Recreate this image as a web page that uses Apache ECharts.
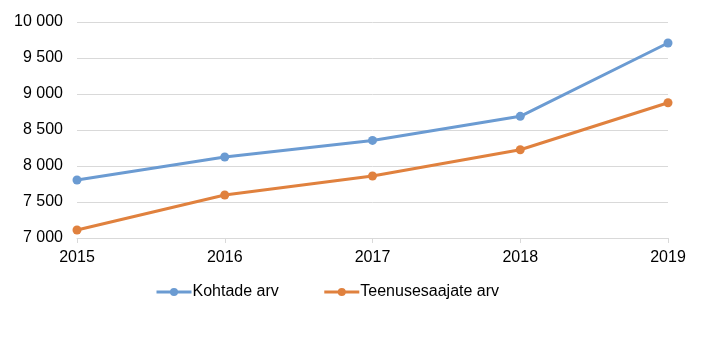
<!DOCTYPE html>
<html><head><meta charset="utf-8">
<script src="https://cdn.jsdelivr.net/npm/echarts@6/dist/echarts.min.js"></script>
<style>html,body{margin:0;padding:0;background:#fff}#c{width:719px;height:337px}</style>
</head><body><div id="c"></div>
<script>
const years = ['2015','2016','2017','2018','2019'];
const kohtade = [7805, 8125, 8355, 8690, 9708];
const teenusesaajate = [7111, 7597, 7861, 8226, 8878];
const seriesNames = ['Kohtade arv','Teenusesaajate arv'];
const colors = ['#6b9bd2','#e0813e'];
const fmt = v => String(v).replace(/\B(?=(\d{3})+(?!\d))/g, ' ');
const chart = echarts.init(document.getElementById('c'));
const mk = (name, data, color) => ({
  name, type: 'line', data, symbol: 'circle', symbolSize: 9,
  lineStyle: {width: 3, color}, itemStyle: {color}, animation: false
});
chart.setOption({
  animation: false,
  textStyle: {fontFamily: 'Liberation Sans, Arial, sans-serif'},
  grid: {left: 77, right: 51, top: 22, bottom: 99},
  legend: {
    data: seriesNames, left: 155, top: 284, padding: 0, itemWidth: 35, itemHeight: 10, itemGap: 44,
    lineStyle: {width: 3},
    textStyle: {fontSize: 16, color: '#000', padding: [0,0,0,-4]}
  },
  xAxis: {
    type: 'category', data: years, boundaryGap: false,
    axisLine: {lineStyle: {color: '#d9d9d9'}},
    axisTick: {show: true, length: 5, lineStyle: {color: '#d9d9d9'}},
    axisLabel: {fontSize: 16, color: '#000', margin: 12}
  },
  yAxis: {
    type: 'value', min: 7000, max: 10000, interval: 500,
    axisLine: {show: false}, axisTick: {show: false},
    splitLine: {lineStyle: {color: '#d9d9d9'}},
    axisLabel: {fontSize: 16, color: '#000', margin: 14, formatter: fmt}
  },
  series: [mk(seriesNames[0], kohtade, colors[0]), mk(seriesNames[1], teenusesaajate, colors[1])]
});
</script></body></html>
